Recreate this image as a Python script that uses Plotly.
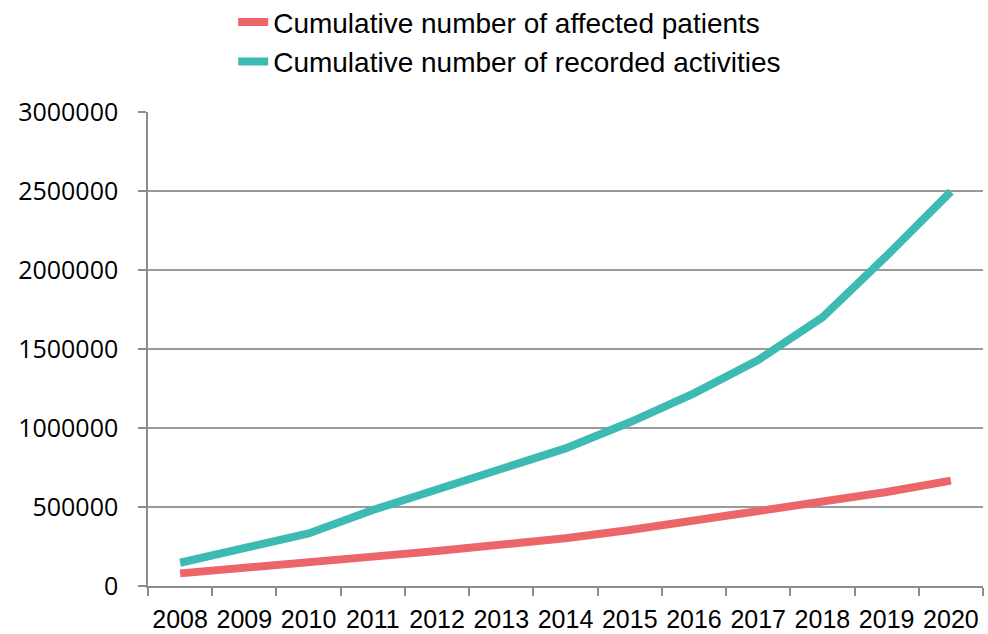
import plotly.graph_objects as go

years = ["2008", "2009", "2010", "2011", "2012", "2013", "2014",
         "2015", "2016", "2017", "2018", "2019", "2020"]
patients = [80000, 112000, 143000, 186000, 222000, 258000, 302000,
            354000, 413000, 470000, 525000, 595000, 667000]
activities = [147000, 234000, 333000, 481000, 612000, 735000, 871000,
              1036000, 1219000, 1430000, 1700000, 2090000, 2496000]
y_ticks = [0, 500000, 1000000, 1500000, 2000000, 2500000, 3000000]

label_font = "Liberation Sans, Arial, sans-serif"

fig = go.Figure()
fig.add_trace(go.Scatter(
    x=years, y=patients, mode="lines",
    name="Cumulative number of affected patients",
    line=dict(color="#EC6568", width=8),
))
fig.add_trace(go.Scatter(
    x=years, y=activities, mode="lines",
    name="Cumulative number of recorded activities",
    line=dict(color="#3DBBB2", width=8),
))

fig.update_layout(
    width=988, height=634,
    margin=dict(l=148, r=5, t=112, b=48, autoexpand=False),
    paper_bgcolor="white", plot_bgcolor="white",
    showlegend=True,
    legend=dict(
        x=0.102, y=1.242, xanchor="left", yanchor="top",
        font=dict(family=label_font, size=28, color="black"),
        bgcolor="rgba(0,0,0,0)", traceorder="normal",
    ),
    xaxis=dict(
        type="category", range=[-0.5, 12.5],
        tickson="boundaries", ticks="outside", ticklen=8,
        tickcolor="#8c8c8c", tickwidth=1.5, tickangle=0,
        showline=True, linecolor="#8c8c8c", linewidth=1.5,
        showgrid=False,
        tickfont=dict(family=label_font, size=25, color="black"),
        ticklabelstandoff=10,
    ),
    yaxis=dict(
        range=[0, 3000000], tickvals=y_ticks,
        ticktext=[str(v) for v in y_ticks],
        ticks="outside", ticklen=8, tickcolor="#8c8c8c", tickwidth=1.5,
        showline=True, linecolor="#8c8c8c", linewidth=1.5,
        showgrid=True, gridcolor="#9a9a9a", gridwidth=1.5,
        zeroline=False,
        tickfont=dict(family="Open Sans, sans-serif", size=25, color="black"),
        ticklabelstandoff=15,
    ),
)

fig.write_html("out.html")
